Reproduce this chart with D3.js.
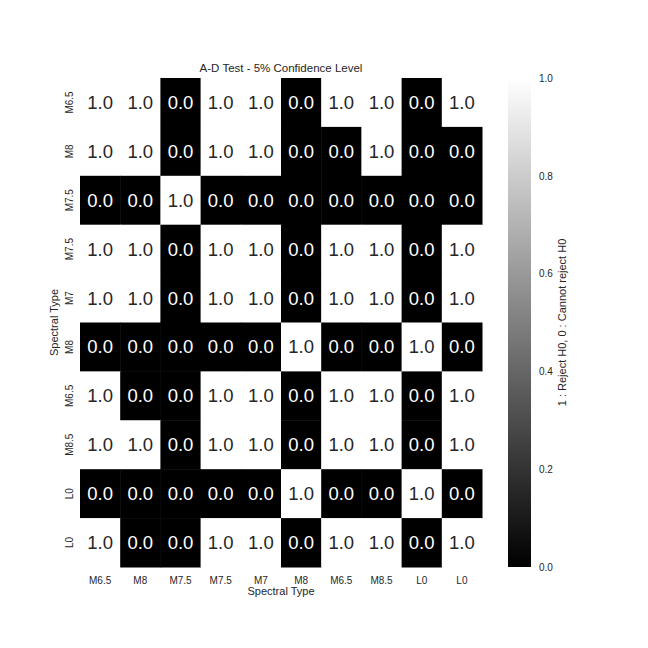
<!DOCTYPE html>
<html><head><meta charset="utf-8">
<script src="https://cdn.jsdelivr.net/npm/d3@7"></script>
<style>body{margin:0;background:#fff}svg{display:block;font-family:Arial,"Liberation Sans",sans-serif}</style>
</head><body><svg id="c" width="648" height="648"></svg>
<script>
const rowLabels = ["M6.5","M8","M7.5","M7.5","M7","M8","M6.5","M8.5","L0","L0"];
const colLabels = ["M6.5","M8","M7.5","M7.5","M7","M8","M6.5","M8.5","L0","L0"];
const values = [
 [1,1,0,1,1,0,1,1,0,1],
 [1,1,0,1,1,0,0,1,0,0],
 [0,0,1,0,0,0,0,0,0,0],
 [1,1,0,1,1,0,1,1,0,1],
 [1,1,0,1,1,0,1,1,0,1],
 [0,0,0,0,0,1,0,0,1,0],
 [1,0,0,1,1,0,1,1,0,1],
 [1,1,0,1,1,0,1,1,0,1],
 [0,0,0,0,0,1,0,0,1,0],
 [1,0,0,1,1,0,1,1,0,1]
];
const cbTicks = [0,0.2,0.4,0.6,0.8,1.0];
const title = "A-D Test - 5% Confidence Level";
const xTitle = "Spectral Type", yTitle = "Spectral Type";
const cbTitle = "1 : Reject H0, 0 : Cannot reject H0";

const svg = d3.select("#c");
const L = 80, R = 482, T = 78, B = 567;
const idx = d3.range(10);
const x = d3.scaleBand().domain(idx).range([L, R]);
const y = d3.scaleBand().domain(idx).range([T, B]);
const color = d3.scaleLinear().domain([0,1]).range(["#000000","#ffffff"]);
const txt = "#262626";

const cells = [];
values.forEach((row,i)=>row.forEach((v,j)=>cells.push({i,j,v})));
svg.append("g").selectAll("rect").data(cells).join("rect")
  .attr("x",d=>x(d.j)).attr("y",d=>y(d.i))
  .attr("width",x.bandwidth()+0.5).attr("height",y.bandwidth()+0.5)
  .attr("fill",d=>color(d.v));
svg.append("g").selectAll("text").data(cells).join("text")
  .attr("x",d=>x(d.j)+x.bandwidth()/2).attr("y",d=>y(d.i)+y.bandwidth()/2)
  .attr("text-anchor","middle").attr("dominant-baseline","central")
  .attr("font-size",18.5).attr("fill",d=>d.v>0.5?txt:"#ffffff")
  .text(d=>d.v.toFixed(1));

// x axis
const xa = svg.append("g").attr("transform",`translate(0,${B})`)
  .call(d3.axisBottom(x).tickSize(0).tickPadding(10).tickFormat(i=>colLabels[i]));
xa.select(".domain").remove();
xa.selectAll("text").attr("font-size",10).attr("fill",txt).attr("font-family","Arial,'Liberation Sans',sans-serif");
// y axis
const ya = svg.append("g").attr("transform",`translate(${L},0)`)
  .call(d3.axisLeft(y).tickSize(0).tickPadding(0).tickFormat(i=>rowLabels[i]));
ya.select(".domain").remove();
ya.selectAll("text").attr("font-size",10).attr("fill",txt)
  .attr("font-family","Arial,'Liberation Sans',sans-serif")
  .attr("text-anchor","middle").attr("x",0).attr("dy",0)
  .attr("transform","translate(-7,0) rotate(-90)");

svg.append("text").attr("x",(L+R)/2).attr("y",72).attr("text-anchor","middle")
  .attr("font-size",11.5).attr("fill",txt).text(title);
svg.append("text").attr("x",(L+R)/2).attr("y",595).attr("text-anchor","middle")
  .attr("font-size",11).attr("fill",txt).text(xTitle);
svg.append("text").attr("transform",`translate(58,${(T+B)/2}) rotate(-90)`).attr("text-anchor","middle")
  .attr("font-size",11).attr("fill",txt).text(yTitle);

// colorbar
const cbX = 508, cbW = 23;
const cy = d3.scaleLinear().domain([0,1]).range([B, T]);
const defs = svg.append("defs");
const grad = defs.append("linearGradient").attr("id","g").attr("x1",0).attr("y1",1).attr("x2",0).attr("y2",0);
grad.append("stop").attr("offset","0%").attr("stop-color",color(0));
grad.append("stop").attr("offset","100%").attr("stop-color",color(1));
svg.append("rect").attr("x",cbX).attr("y",T).attr("width",cbW).attr("height",B-T).attr("fill","url(#g)");
const ca = svg.append("g").attr("transform",`translate(${cbX+cbW},0)`)
  .call(d3.axisRight(cy).tickValues(cbTicks).tickSize(0).tickPadding(8).tickFormat(d3.format(".1f")));
ca.select(".domain").remove();
ca.selectAll("text").attr("font-size",10).attr("fill",txt).attr("font-family","Arial,'Liberation Sans',sans-serif");
svg.append("text").attr("transform",`translate(566,${(T+B)/2}) rotate(-90)`).attr("text-anchor","middle")
  .attr("font-size",11).attr("fill",txt).text(cbTitle);
</script></body></html>
